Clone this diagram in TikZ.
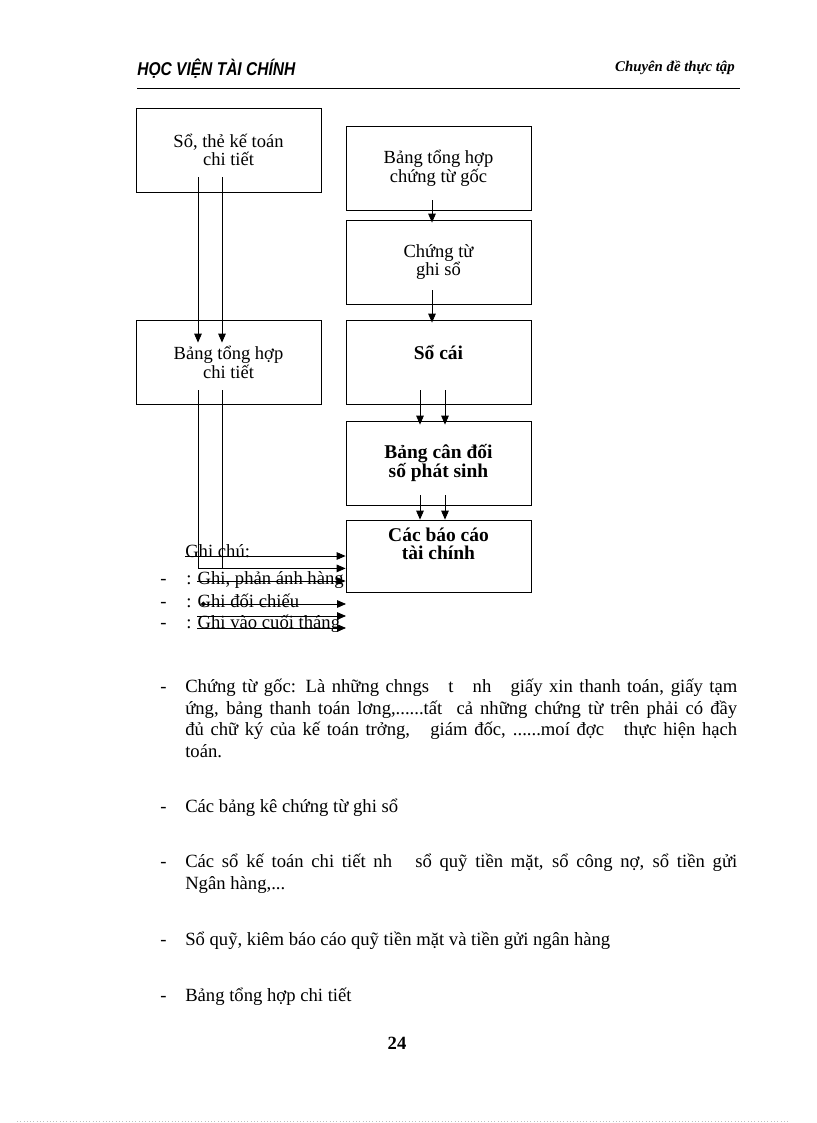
\documentclass[tikz,border=0pt]{standalone}
\usepackage{fontspec}
\setmainfont{Liberation Serif}
\newfontfamily\hdrfont{Liberation Sans}
\usetikzlibrary{arrows.meta,calc}
\tikzset{
  box/.style={draw, line width=0.6pt, minimum width=185*0.7292pt, minimum height=84*0.7292pt, inner sep=0pt, align=center, font=\fontsize{13.5}{12.6}\selectfont},
  boldtxt/.style={font=\fontsize{14.2}{13}\selectfont\bfseries},
  arr/.style={line width=0.6pt, -{Triangle[length=6.5pt,width=5.5pt]}},
  ln/.style={line width=0.6pt},
  body/.style={anchor=base west, inner sep=0pt, font=\fontsize{13.6}{15}\selectfont},
  bullet/.style={anchor=base west, inner sep=0pt, font=\fontsize{13.6}{15}\selectfont}
}
\newcommand{\jline}[1]{\makebox[402.5pt][s]{#1}}
\begin{document}
\begin{tikzpicture}[x=0.7292pt,y=-0.7292pt]
\useasboundingbox (0,0) rectangle (816,1123);
% header
\node[anchor=base west, inner sep=0pt] (hl) at (137,76) {\hdrfont\bfseries\itshape\fontsize{13.5}{14}\selectfont\scalebox{0.84}[1]{HỌC VIỆN TÀI CHÍNH}};
\node[anchor=base east, inner sep=0pt] (hr) at (735,72) {\bfseries\itshape\fontsize{10.8}{12}\selectfont Chuyên đề thực tập};
\draw[line width=0.6pt] (137,88) -- (740,88);
% boxes
\node[box] (b1) at (228.5,150) {Sổ, thẻ kế toán\\chi tiết};
\node[box] (b2) at (438.5,168) {Bảng tổng hợp\\chứng từ gốc};
\node[box] (b3) at (438.5,262) {Chứng từ\\ghi sổ};
\node[box] (b4) at (228.5,362) {Bảng tổng hợp\\chi tiết};
\node[box] (b5) at (438.5,362) {};
\node[inner sep=0pt, boldtxt] (t5) at (438.5,353) {Sổ cái};
\node[box, boldtxt] (b6) at (438.5,463) {Bảng cân đối\\số phát sinh};
\node[box, minimum height=72*0.7292pt] (b7) at (438.5,556) {};
\node[inner sep=0pt, align=center, boldtxt] (t7) at (438.5,544) {Các báo cáo\\tài chính};
% arrows
\draw[arr] ($(b1.south)+(-30.5,-15)$) -- ($(b4.north)+(-30.5,23)$);
\draw[arr] ($(b1.south)+(-6.5,-15)$) -- ($(b4.north)+(-6.5,23)$);
\draw[arr] ($(b2.south)+(-6.5,-10)$) -- ($(b3.north)+(-6.5,3)$);
\draw[arr] ($(b3.south)+(-6.5,-14)$) -- ($(b5.north)+(-6.5,3)$);
\draw[arr] ($(b5.south)+(-18.5,-14)$) -- ($(b6.north)+(-18.5,4)$);
\draw[arr] ($(b5.south)+(6.5,-14)$) -- ($(b6.north)+(6.5,4)$);
\draw[arr] ($(b6.south)+(-18.5,-10)$) -- ($(b7.north)+(-18.5,0)$);
\draw[arr] ($(b6.south)+(6.5,-10)$) -- ($(b7.north)+(6.5,0)$);
\coordinate (c1) at ($(b4.south)+(-30.5,164)$);
\coordinate (c2) at ($(b4.south)+(-6.5,164)$);
\draw[ln] ($(b4.south)+(-30.5,-14)$) -- (c1);
\draw[ln] ($(b4.south)+(-6.5,-14)$) -- (c2);
\coordinate (g0) at (185,556);
\draw[arr] (g0) -- (b7.west |- g0);
\draw[arr] (c1) -- (b7.west |- c1);
% legend
\node[body] (gc) at (185,557) {Ghi chú:};
\node[bullet] (d1) at (160,584) {-};
\node[bullet] (d2) at (160,607) {-};
\node[bullet] (d3) at (160,628) {-};
\node[body] (l1) at (186,584) {: Ghi, phản ánh hàng};
\node[body] (l2) at (186,607) {: Ghi đối chiếu};
\node[body] (l3) at (186,628) {: Ghi vào cuối tháng};
\coordinate (e1) at (197,581);
\coordinate (e2) at (201,604);
\coordinate (e3) at (197,616);
\coordinate (e4) at (197,628);
\coordinate (f2) at (346,604);
\coordinate (f3) at (346,616);
\coordinate (f4) at (346,628);
\draw[arr] (e1) -- (b7.west |- e1);
\draw[line width=0.6pt, {Circle[length=3.5pt]}-{Triangle[length=6.5pt,width=5.5pt]}] (e2) -- (f2);
\draw[arr] (e3) -- (f3);
\draw[arr] (e4) -- (f4);
% body text
\node[bullet] (k1) at (160,692) {-};
\node[body] (p1) at (185,692) {\jline{Chứng từ gốc: Là những chngs \ \ t \ \ nh \ \ giấy xin thanh toán, giấy tạm}};
\node[body] (p2) at (185,714) {\jline{ứng, bảng thanh toán lơng,......tất \ cả những chứng từ trên phải có đầy}};
\node[body] (p3) at (185,735) {\jline{đủ chữ ký của kế toán trởng, \ \ giám đốc, ......moí đợc \ \ thực hiện hạch}};
\node[body] (p4) at (185,757) {toán.};
\node[bullet] (k2) at (160,812) {-};
\node[body] (q1) at (185,812) {Các bảng kê chứng từ ghi sổ};
\node[bullet] (k3) at (160,867) {-};
\node[body] (r1) at (185,867) {\jline{Các sổ kế toán chi tiết nh \ \ sổ quỹ tiền mặt, sổ công nợ, sổ tiền gửi}};
\node[body] (r2) at (185,889) {Ngân hàng,...};
\node[bullet] (k4) at (160,945) {-};
\node[body] (s1) at (185,945) {Sổ quỹ, kiêm báo cáo quỹ tiền mặt và tiền gửi ngân hàng};
\node[bullet] (k5) at (160,1001) {-};
\node[body] (u1) at (185,1001) {Bảng tổng hợp chi tiết};
\node[anchor=base, inner sep=0pt, font=\fontsize{13.6}{15}\selectfont\bfseries] (pg) at (397,1049) {24};
\draw[black!25, dotted, line width=0.4pt] (17,1121) -- (790,1121);
\end{tikzpicture}
\end{document}
